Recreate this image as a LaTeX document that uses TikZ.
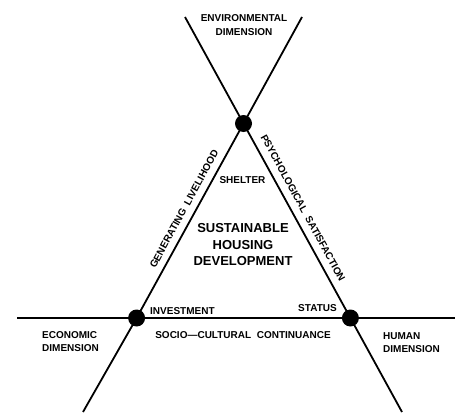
\documentclass[tikz,border=0pt]{standalone}
\usepackage{fontspec}
\setmainfont{Liberation Sans}
\begin{document}
\begin{tikzpicture}[x=1pt,y=-1pt,
  axis/.style={line width=1.8pt,black},
  dot/.style={circle,fill=black,inner sep=0pt,minimum size=17pt},
  lbl/.style={font=\bfseries\fontsize{10}{13.5}\selectfont,inner sep=1pt},
  title/.style={font=\bfseries\fontsize{13}{16.5}\selectfont,align=center,inner sep=1pt}]
\useasboundingbox (0,0) rectangle (460,412);
% crossing points
\coordinate (top) at (243.5,123.5);
\coordinate (lft) at (136.6,318);
\coordinate (rgt) at (350.4,318);
% free ends
\coordinate (e1a) at (185,17);
\coordinate (e1b) at (402,412);
\coordinate (e2a) at (302,17);
\coordinate (e2b) at (83,412);
\coordinate (h1) at (17,318);
\coordinate (h2) at (455,318);
% lines
\draw[axis] (e1a) -- (top) -- (rgt) -- (e1b);
\draw[axis] (e2a) -- (top) -- (lft) -- (e2b);
\draw[axis] (h1) -- (lft) -- (rgt) -- (h2);
% dots
\node[dot] (topdot) at (top) {};
\node[dot] (lftdot) at (lft) {};
\node[dot] (rgtdot) at (rgt) {};
% labels
\node[lbl,align=center] (env) at (244,25) {ENVIRONMENTAL\\DIMENSION};
\node[lbl] (shelter) at (242.5,180) {SHELTER};
\node[title] (shd) at (243,245) {SUSTAINABLE\\HOUSING\\DEVELOPMENT};
\node[lbl,anchor=west] (inv) at (149,311) {INVESTMENT};
\node[lbl] (status) at (317.5,308) {STATUS};
\node[lbl] (socio) at (243,335) {SOCIO—CULTURAL\ \ CONTINUANCE};
\node[lbl,align=left,anchor=west] (econ) at (41,341.5) {ECONOMIC\\DIMENSION};
\node[lbl,align=left,anchor=west] (human) at (382,342.5) {HUMAN\\DIMENSION};
\node[lbl,rotate=61.4] (gen) at (184,209) {GENERATING\ \ LIVELIHOOD};
\node[lbl,rotate=-61.4] (psy) at (303,208) {PSYCHOLOGICAL\ \ SATISFACTION};
\end{tikzpicture}
\end{document}
